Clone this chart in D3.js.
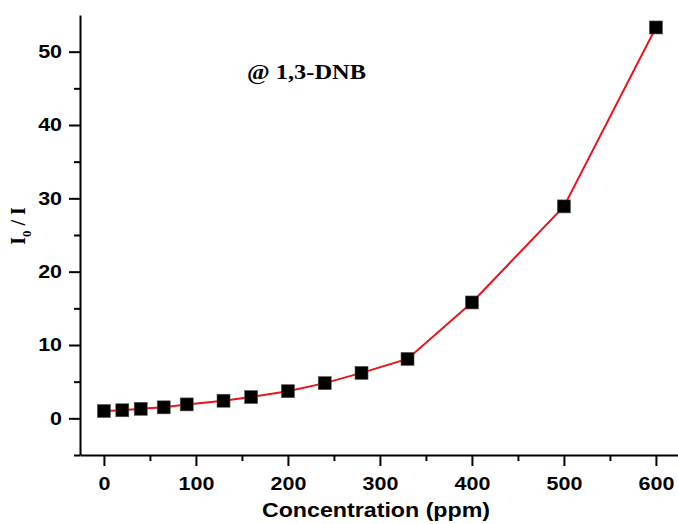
<!DOCTYPE html>
<html>
<head>
<meta charset="utf-8">
<script src="https://cdn.jsdelivr.net/npm/d3@7"></script>
<style>
  body { margin: 0; background: #fff; }
  svg { display: block; }
  .tick text { font-family: "Liberation Sans", Arial, sans-serif; font-weight: bold; font-size: 18.5px; fill: #000; }
  .domain, .tick line { stroke: #000; stroke-width: 2; }
</style>
</head>
<body>
<div id="chart-area"></div>
<script>
// Data
var concentration = [0, 20, 40, 65, 90, 130, 160, 200, 240, 280, 330, 400, 500, 600];
var ratio = [1.0, 1.1, 1.3, 1.5, 1.9, 2.4, 2.9, 3.7, 4.8, 6.2, 8.1, 15.8, 28.9, 53.3];
var xTicks = [0, 100, 200, 300, 400, 500, 600];
var yTicks = [0, 10, 20, 30, 40, 50];

var W = 678, H = 524;
var margin = { left: 80, right: 0, top: 15, bottom: 69 };
var width = W - margin.left - margin.right;
var height = H - margin.top - margin.bottom;
var stretch = 1.16; // the original text is a bit wide

var svg = d3.select("#chart-area")
  .append("svg")
    .attr("width", W)
    .attr("height", H);

var g = svg.append("g")
  .attr("transform", "translate(" + margin.left + ", " + margin.top + ")");

var x = d3.scaleLinear()
  .domain([-26, 624])
  .range([0, width]);

var y = d3.scaleLinear()
  .domain([-5, 55])
  .range([height, 0]);

var data = concentration.map(function (c, i) {
  return { c: c, r: ratio[i] };
});

function widen(sel, f) {
  sel.each(function () {
    var len = this.getComputedTextLength();
    d3.select(this)
      .attr("textLength", len * f)
      .attr("lengthAdjust", "spacingAndGlyphs");
  });
}

// minor ticks first, then major axes
var xMinor = d3.range(50, 600, 100);
var yMinor = d3.range(-5, 55, 10);

g.append("g")
  .attr("transform", "translate(0, " + height + ")")
  .call(d3.axisBottom(x).tickValues(xMinor).tickSize(6).tickFormat(""))
  .call(function (s) { s.select(".domain").remove(); });

g.append("g")
  .call(d3.axisLeft(y).tickValues(yMinor).tickSize(6).tickFormat(""))
  .call(function (s) { s.select(".domain").remove(); });

var xAxis = g.append("g")
  .attr("transform", "translate(0, " + height + ")")
  .call(d3.axisBottom(x).tickValues(xTicks).tickSize(11).tickSizeOuter(0).tickPadding(11));

var yAxis = g.append("g")
  .call(d3.axisLeft(y).tickValues(yTicks).tickSize(11).tickSizeOuter(0).tickPadding(7));

widen(xAxis.selectAll(".tick text"), stretch);
widen(yAxis.selectAll(".tick text"), stretch);

// line
var line = d3.line()
  .x(function (d) { return x(d.c); })
  .y(function (d) { return y(d.r); });

g.append("path")
  .datum(data)
  .attr("fill", "none")
  .attr("stroke", "#e8141b")
  .attr("stroke-width", 2)
  .attr("d", line);

// square markers
var sz = 13;
g.selectAll("rect.pt")
  .data(data)
  .enter()
  .append("rect")
    .attr("class", "pt")
    .attr("x", function (d) { return x(d.c) - sz / 2; })
    .attr("y", function (d) { return y(d.r) - sz / 2; })
    .attr("width", sz)
    .attr("height", sz)
    .attr("fill", "#000")
    .attr("stroke", "#555")
    .attr("stroke-width", 0.6);

// X Label
svg.append("text")
  .attr("x", 376)
  .attr("y", 517)
  .attr("text-anchor", "middle")
  .attr("font-family", "Liberation Sans, Arial, sans-serif")
  .attr("font-weight", "bold")
  .attr("font-size", "20px")
  .text("Concentration (ppm)")
  .call(widen, stretch);

// Y Label
var yLabel = svg.append("text")
  .attr("transform", "translate(25, 226) rotate(-90)")
  .attr("text-anchor", "middle")
  .attr("font-family", "Liberation Serif, Times New Roman, serif")
  .attr("font-weight", "bold")
  .attr("font-size", "20px");
yLabel.append("tspan").text("I");
yLabel.append("tspan").attr("font-size", "13px").attr("dy", 6).text("0");
yLabel.append("tspan").attr("dy", -6).text(" / I");

// annotation
svg.append("text")
  .attr("x", 247)
  .attr("y", 79)
  .attr("font-family", "Liberation Serif, Times New Roman, serif")
  .attr("font-weight", "bold")
  .attr("font-size", "20px")
  .text("@ 1,3-DNB")
  .call(widen, 1.22);
</script>
</body>
</html>
